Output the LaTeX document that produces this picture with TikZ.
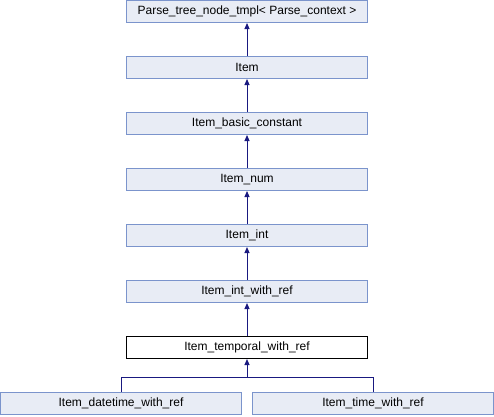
\documentclass[tikz,border=0pt]{standalone}
\usepackage{fontspec}
\setmainfont{Liberation Sans}
\usetikzlibrary{arrows.meta}
\definecolor{boxfill}{RGB}{232,236,245}
\definecolor{boxline}{RGB}{123,148,204}
\definecolor{edgecol}{RGB}{25,25,128}
\tikzset{
  cls/.style={draw=boxline, fill=boxfill, line width=1pt, minimum width=241pt, minimum height=22pt, inner sep=0pt, font=\fontsize{12}{14}\selectfont},
  cur/.style={cls, draw=black, fill=white},
  inh/.style={draw=edgecol, line width=1pt, -{Triangle[length=6pt,width=5pt]}},
  ln/.style={draw=edgecol, line width=1pt},
}
\begin{document}
\begin{tikzpicture}[x=1pt,y=-1pt]
\useasboundingbox (0,0) rectangle (494,416);
\node[cls] (p) at (247,11.5) {Parse\_tree\_node\_tmpl< Parse\_context >};
\node[cls] (item) at (247,67.5) {Item};
\node[cls] (ibc) at (247,123.5) {Item\_basic\_constant};
\node[cls] (num) at (247,179.5) {Item\_num};
\node[cls] (int) at (247,235.5) {Item\_int};
\node[cls] (iwr) at (247,291.5) {Item\_int\_with\_ref};
\node[cur] (tmp) at (247,347.5) {Item\_temporal\_with\_ref};
\node[cls] (dt) at (121,403.5) {Item\_datetime\_with\_ref};
\node[cls] (tm) at (373,403.5) {Item\_time\_with\_ref};
\coordinate (j) at (247,377);
\draw[inh] (item) -- (p);
\draw[inh] (ibc) -- (item);
\draw[inh] (num) -- (ibc);
\draw[inh] (int) -- (num);
\draw[inh] (iwr) -- (int);
\draw[inh] (tmp) -- (iwr) ;
\draw[ln] (dt.north) |- (j);
\draw[ln] (tm.north) |- (j);
\draw[inh] (j) -- (tmp);
\end{tikzpicture}
\end{document}
